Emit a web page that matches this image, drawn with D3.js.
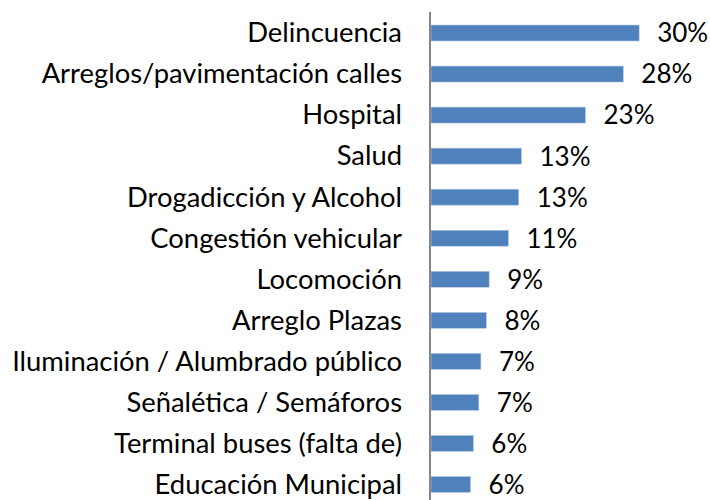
<!DOCTYPE html>
<html>
<head>
<meta charset="utf-8">
<script src="https://cdn.jsdelivr.net/npm/d3@7"></script>
<style>
  body { margin: 0; background: #fff; }
  svg text { font-family: Lato, "Open Sans", sans-serif; fill: #000; }
</style>
</head>
<body>
<div id="chart"></div>
<script>
// Categories, top to bottom
const categories = [
    'Delincuencia',
    'Arreglos/pavimentación calles',
    'Hospital',
    'Salud',
    'Drogadicción y Alcohol',
    'Congestión vehicular',
    'Locomoción',
    'Arreglo Plazas',
    'Iluminación / Alumbrado público',
    'Señalética / Semáforos',
    'Terminal buses (falta de)',
    'Educación Municipal'
];

// Shares in percent
const values = [30.4, 28.1, 22.6, 13.3, 12.9, 11.4, 8.6, 8.2, 7.4, 7.1, 6.3, 5.9];

// Labels as printed
const valueLabels = ['30%', '28%', '23%', '13%', '13%', '11%', '9%', '8%', '7%', '7%', '6%', '6%'];

const WIDTH = 710;
const HEIGHT = 500;
const AXIS_X = 430;
const CAT_FONT = 27.4;
const VAL_FONT = 26;

const svg = d3.select('#chart')
    .append('svg')
    .attr('width', WIDTH)
    .attr('height', HEIGHT);

const x = d3.scaleLinear()
    .domain([0, 40])
    .range([AXIS_X, AXIS_X + 40 * 6.88]);

const y = d3.scaleBand()
    .domain(categories)
    .range([12.5, 505])
    .paddingInner(0.61)
    .paddingOuter(0.305);

const rows = categories.map((c, i) => ({ name: c, value: values[i], label: valueLabels[i] }));

// Bars
svg.selectAll('rect.bar')
    .data(rows)
    .join('rect')
    .attr('class', 'bar')
    .attr('x', x(0) + 1)
    .attr('y', d => y(d.name))
    .attr('width', d => x(d.value) - x(0) - 1)
    .attr('height', y.bandwidth())
    .attr('fill', '#4F81BD')
    .attr('stroke', '#B9CDE5')
    .attr('stroke-width', 0.6);

// Category labels
svg.selectAll('text.cat')
    .data(rows)
    .join('text')
    .attr('class', 'cat')
    .attr('x', AXIS_X - 28)
    .attr('y', d => y(d.name) + y.bandwidth() / 2)
    .attr('dy', '0.34em')
    .attr('text-anchor', 'end')
    .style('font-size', CAT_FONT + 'px')
    .text(d => d.name);

// Value labels
svg.selectAll('text.val')
    .data(rows)
    .join('text')
    .attr('class', 'val')
    .attr('x', d => x(d.value) + 18)
    .attr('y', d => y(d.name) + y.bandwidth() / 2)
    .attr('dy', '0.36em')
    .style('font-size', VAL_FONT + 'px')
    .text(d => d.label);

// Vertical axis line
svg.append('line')
    .attr('x1', AXIS_X)
    .attr('x2', AXIS_X)
    .attr('y1', 12)
    .attr('y2', HEIGHT)
    .attr('stroke', '#868686')
    .attr('stroke-width', 2);
</script>
</body>
</html>
